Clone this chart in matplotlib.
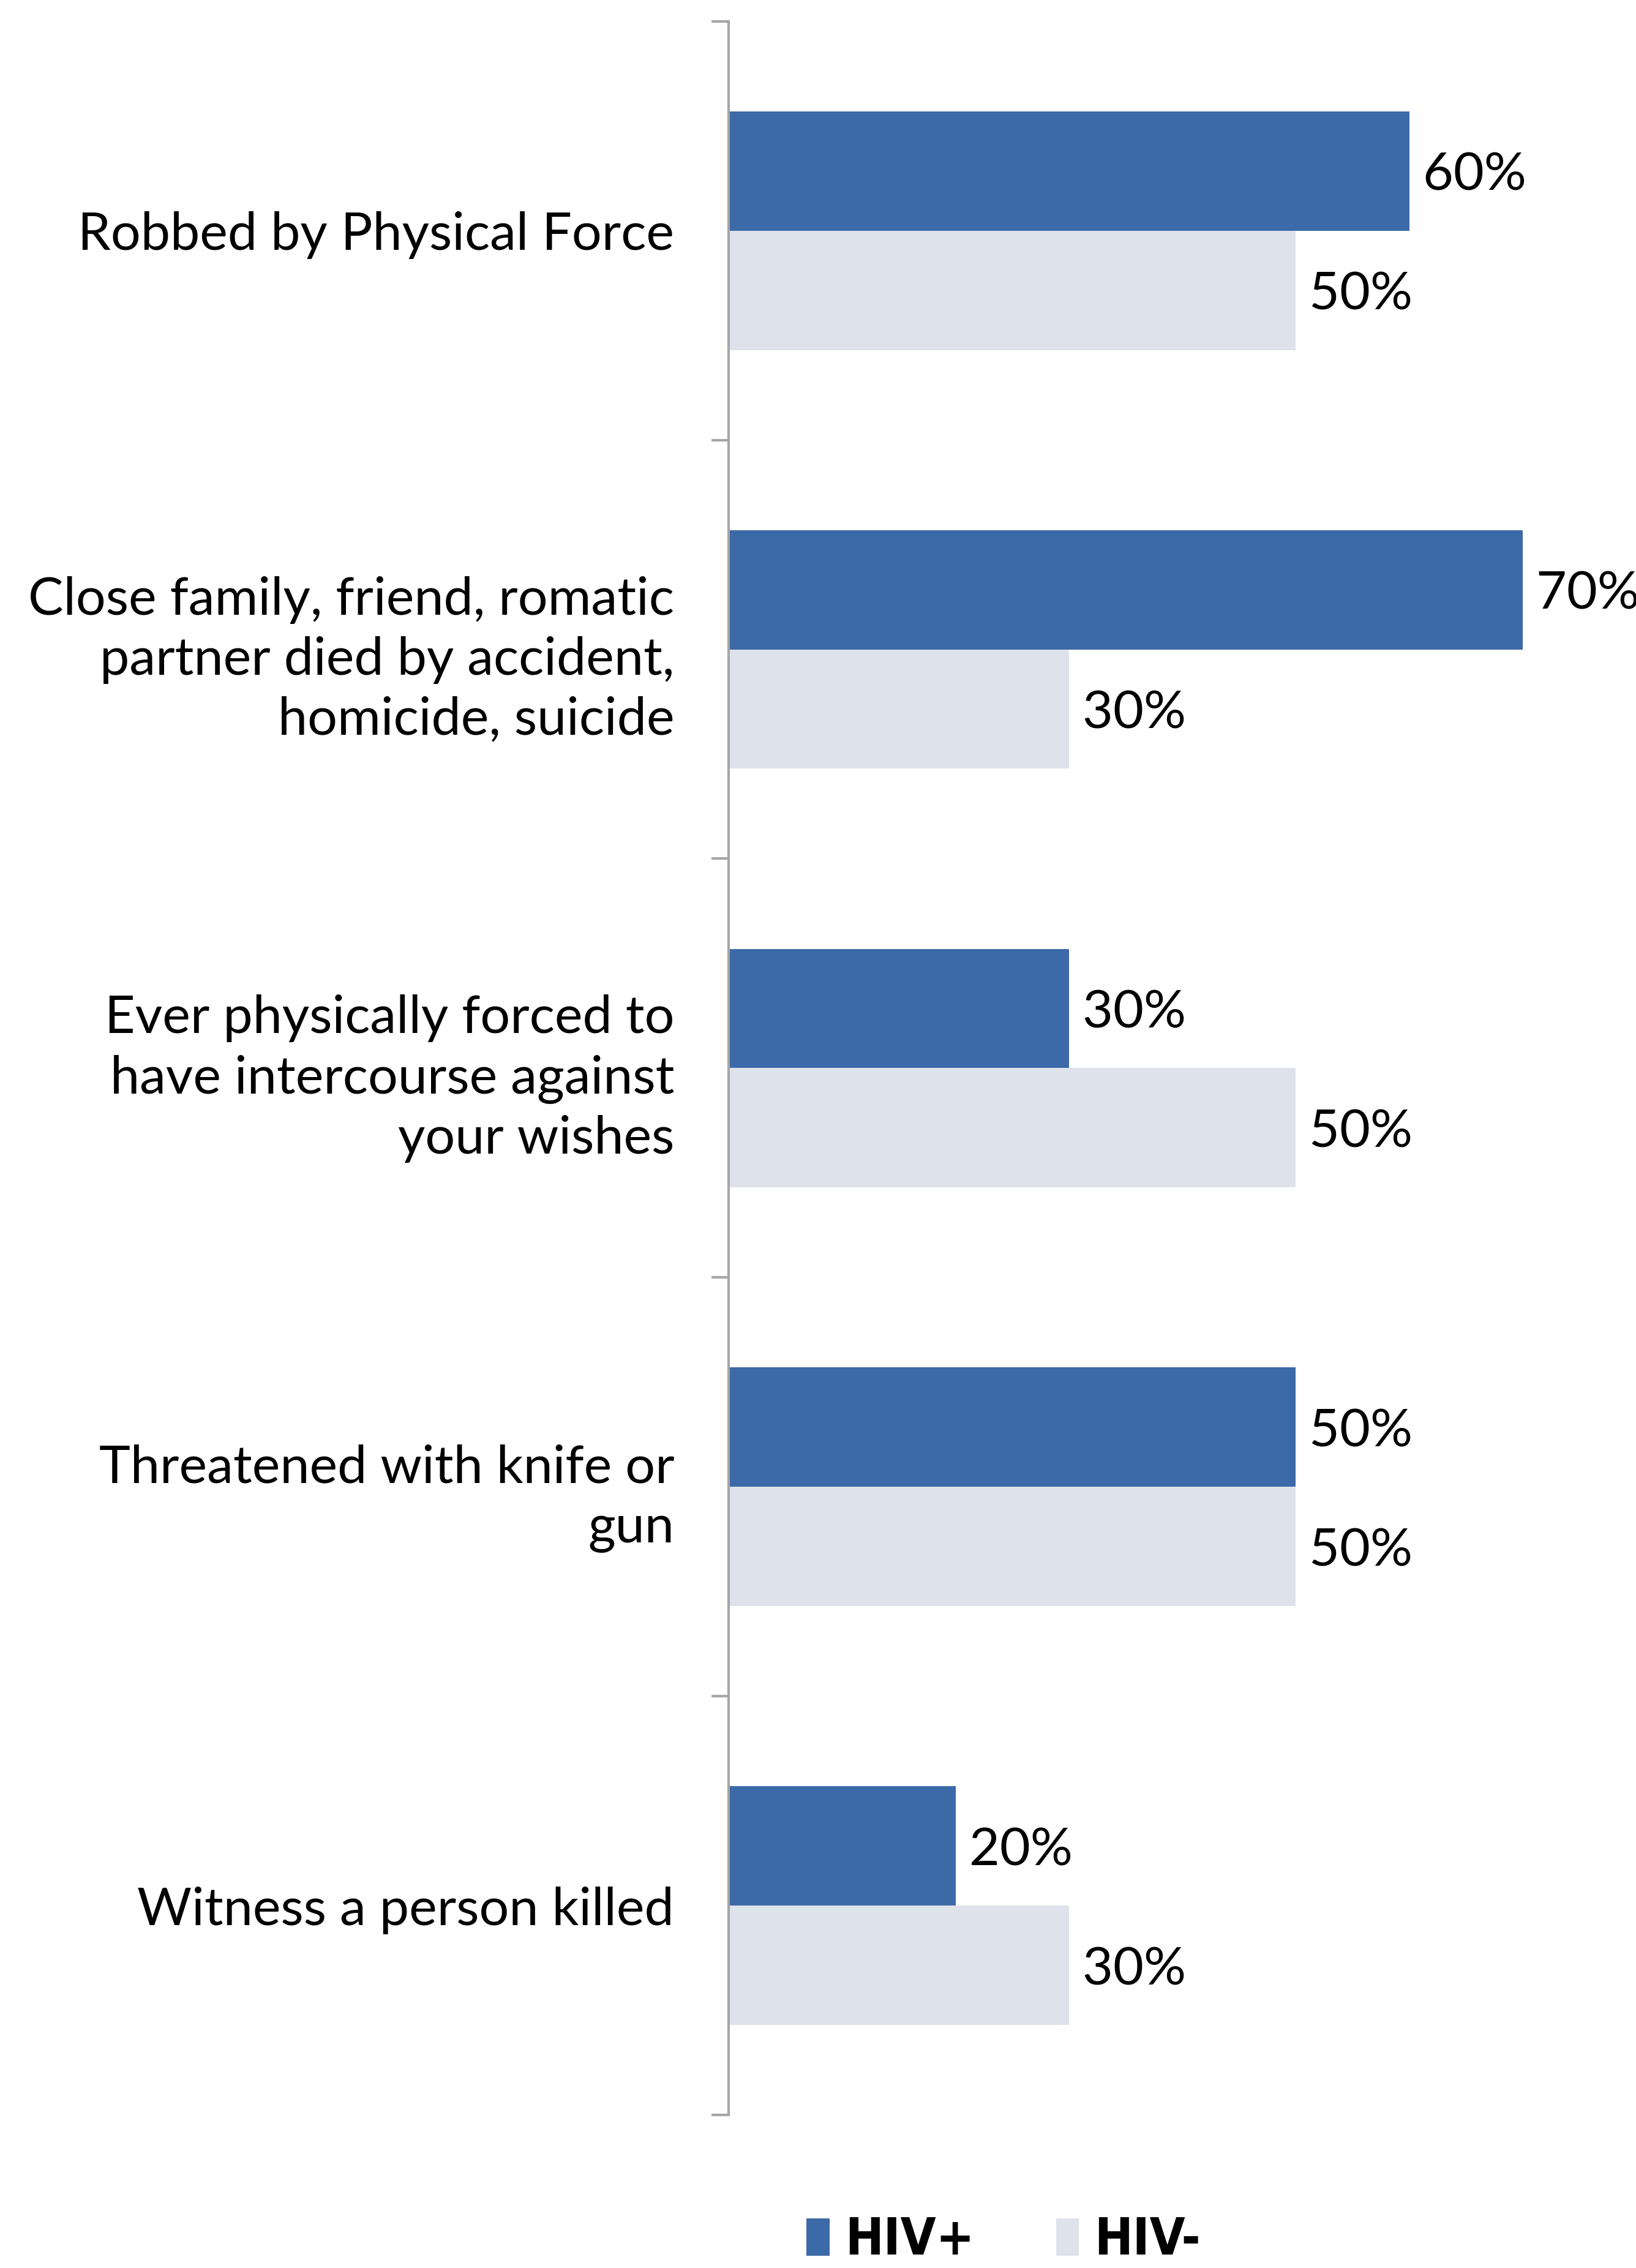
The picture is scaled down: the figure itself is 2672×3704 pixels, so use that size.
import numpy as np
import matplotlib
matplotlib.use('Agg')
import matplotlib.pyplot as plt

plt.rcParams['font.family'] = ['Lato', 'DejaVu Sans']

# datos
categories = ['Robbed by Physical Force',
              'Close family, friend, romatic\npartner died by accident,\nhomicide, suicide',
              'Ever physically forced to\nhave intercourse against\nyour wishes',
              'Threatened with knife or\ngun',
              'Witness a person killed']
hiv_pos = [0.60, 0.70, 0.30, 0.50, 0.20]
hiv_neg = [0.50, 0.30, 0.50, 0.50, 0.30]
series_names = ['HIV+', 'HIV-']

c_pos = '#3C6AA8'
c_neg = '#DEE2EA'
gris = '#A6A6A6'

fig = plt.figure(figsize=(13.36, 18.52), dpi=200)
ax = fig.add_axes([0.4454, 0.0675, 0.5546, 0.9231])

y = np.arange(len(categories))
h = 0.285
b1 = ax.barh(y - h/2, hiv_pos, height=h, color=c_pos, label=series_names[0])
b2 = ax.barh(y + h/2, hiv_neg, height=h, color=c_neg, label=series_names[1])

for bars in (b1, b2):
    for r in bars:
        v = r.get_width()
        ax.text(v, r.get_y() + r.get_height()/2, ' %d%%' % round(v*100),
                va='center_baseline', ha='left', fontsize=31, color='black')

ax.set_xlim(0, 0.8)
ax.set_ylim(len(categories) - 0.5, -0.5)

# ticks en los limites, etiquetas en el centro
ax.set_yticks(np.arange(len(categories) + 1) - 0.5)
ax.set_yticklabels([])
ax.set_yticks(y, minor=True)
ax.set_yticklabels(categories, minor=True, fontsize=31, ha='right', linespacing=1.31)
ax.tick_params(axis='y', which='major', length=10, width=1.5, color=gris)
ax.tick_params(axis='y', which='minor', length=0, pad=32)
ax.set_xticks([])

for s in ['top', 'right', 'bottom']:
    ax.spines[s].set_visible(False)
ax.spines['left'].set_color(gris)
ax.spines['left'].set_linewidth(1.5)

fig.legend(handles=[b1, b2], loc='lower left', bbox_to_anchor=(0.465, -0.019),
           ncol=2, frameon=False, handlelength=0.45, handleheight=0.75,
           handletextpad=0.3, columnspacing=1.6,
           prop={'family': ['Liberation Sans Narrow', 'DejaVu Sans Condensed', 'DejaVu Sans'],
                 'stretch': 'condensed', 'weight': 'bold', 'size': 30})

fig.savefig('out.png', dpi=200)
